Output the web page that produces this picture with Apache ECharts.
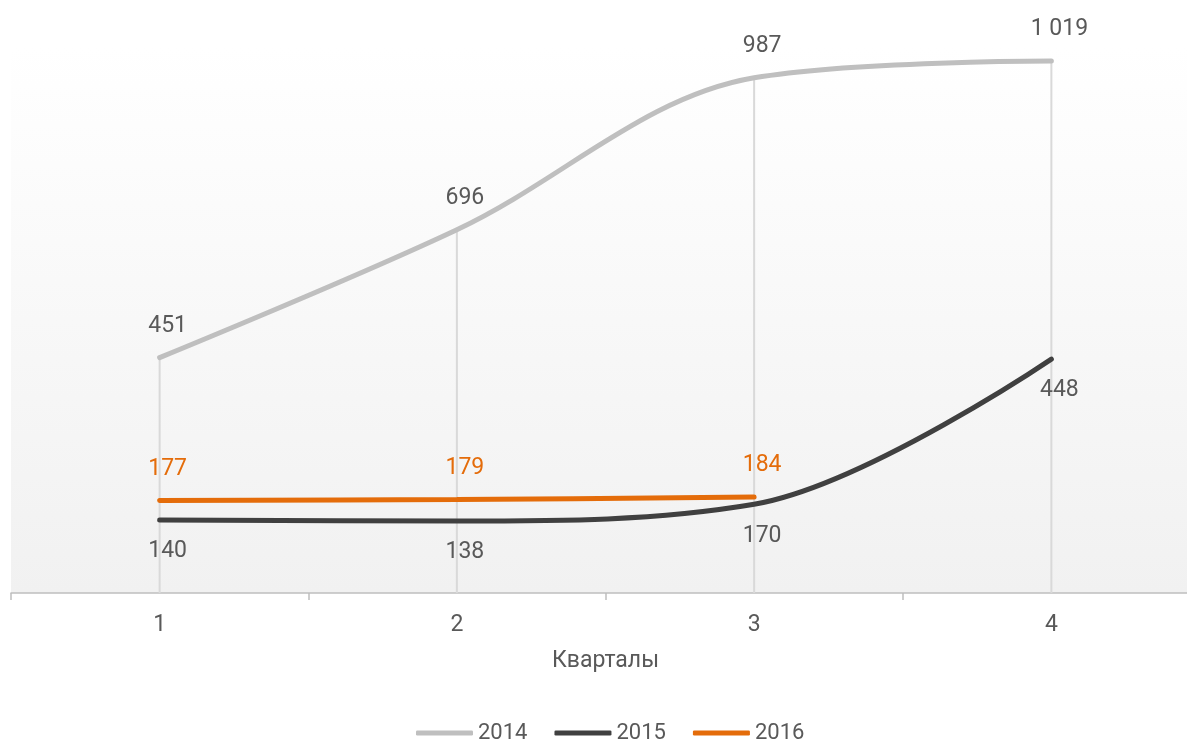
<!DOCTYPE html>
<html>
<head>
<meta charset="utf-8">
<script src="https://cdn.jsdelivr.net/npm/echarts@6/dist/echarts.min.js"></script>
<style>
html,body{margin:0;padding:0;background:#fff;}
#chart{width:1187px;height:740px;}
</style>
</head>
<body>
<div id="chart"></div>
<script>
const categories = ['1', '2', '3', '4'];
const s2014 = [451, 696, 987, 1019];
const s2015 = [140, 138, 170, 448];
const s2016 = [177, 179, 184, null];
const seriesNames = ['2014', '2015', '2016'];
const axisName = 'Кварталы';

const dropTops = categories.map((c, i) => Math.max(s2014[i] ?? 0, s2015[i] ?? 0, s2016[i] ?? 0));

function fmt(v) {
  return String(v).replace(/\B(?=(\d{3})+(?!\d))/g, ' ');
}

const labelColor = '#595959';
const fontFamily = 'Roboto, "Noto Sans", sans-serif';

function lineSeries(name, data, color, pos) {
  return {
    name: name,
    type: 'line',
    data: data,
    smooth: 0.35,
    showSymbol: true,
    symbol: 'circle',
    symbolSize: 0,
    itemStyle: { color: color },
    lineStyle: { color: color, width: 5, cap: 'round' },
    z: 3,
    label: {
      show: true,
      position: pos,
      distance: 20,
      offset: [8, 0],
      fontSize: 23,
      fontFamily: fontFamily,
      color: name === '2016' ? '#e46c0a' : labelColor,
      formatter: p => fmt(p.value)
    },
    emphasis: { disabled: true }
  };
}

const chart = echarts.init(document.getElementById('chart'), null, { renderer: 'canvas' });
chart.setOption({
  animation: false,
  textStyle: { fontFamily: fontFamily },
  grid: {
    left: 11, width: 1189, top: 47, bottom: 147,
    outerBoundsMode: 'none',
    containLabel: false,
    show: true,
    borderWidth: 0,
    backgroundColor: {
      type: 'linear', x: 0, y: 0, x2: 0, y2: 1,
      colorStops: [{ offset: 0, color: '#ffffff' }, { offset: 1, color: '#f1f1f1' }]
    }
  },
  legend: {
    data: seriesNames,
    top: 717,
    left: 411,
    icon: 'roundRect',
    itemWidth: 57,
    itemHeight: 5,
    itemGap: 27,
    textStyle: { fontSize: 22, color: labelColor, fontFamily: fontFamily }
  },
  xAxis: {
    type: 'category',
    data: categories,
    boundaryGap: true,
    name: axisName,
    nameLocation: 'middle',
    nameGap: 57,
    nameTextStyle: { fontSize: 23, color: labelColor },
    axisLine: { lineStyle: { color: '#bfbfbf', width: 1.5 } },
    axisTick: { show: true, length: 7, lineStyle: { color: '#bfbfbf', width: 1.5 } },
    axisLabel: { fontSize: 23, color: labelColor, margin: 21 },
    splitLine: { show: false }
  },
  yAxis: {
    type: 'value',
    min: 0,
    max: 1046,
    show: false,
    splitLine: { show: false }
  },
  series: [
    {
      name: 'drop',
      type: 'bar',
      data: dropTops,
      barWidth: 2,
      itemStyle: { color: '#d9d9d9' },
      z: 1,
      silent: true
    },
    lineSeries('2014', s2014, '#bfbfbf', 'top'),
    lineSeries('2015', s2015, '#404040', 'bottom'),
    lineSeries('2016', s2016, '#e46c0a', 'top')
  ]
});
</script>
</body>
</html>
